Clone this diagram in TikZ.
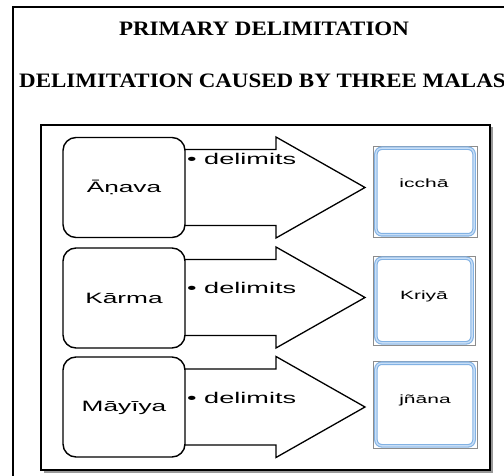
\documentclass[tikz,border=0pt]{standalone}
\usepackage{fontspec}
\setmainfont{Liberation Serif}
\newfontfamily\widesans[FakeStretch=1.75]{Liberation Sans}
\newfontfamily\widetitle[FakeStretch=1.12]{Liberation Serif}
\usetikzlibrary{calc}
\definecolor{boxblue}{RGB}{130,178,228}
\definecolor{boxblueinner}{RGB}{200,222,246}
\tikzset{
  frameline/.style={line width=1.7pt},
  titletext/.style={font=\widetitle\bfseries\fontsize{20.5}{24}\selectfont, inner sep=0pt, anchor=base},
  malabox/.style={draw, line width=1.4pt, rounded corners=13pt, fill=white,
    minimum width=122pt, minimum height=100pt, inner sep=0pt},
  malatext/.style={font=\widesans\fontsize{15}{18}\selectfont, inner sep=0pt, anchor=base},
  blockarrow/.style={draw, line width=1.3pt, fill=white, line join=miter},
  delimtext/.style={font=\widesans\fontsize{15.5}{18}\selectfont, inner sep=0pt, anchor=base west},
  powerbox/.style={draw=black!45, line width=0.6pt, minimum width=104pt, inner sep=0pt},
  powerinner/.style={draw=boxblue, line width=1.1pt, double=boxblueinner, double distance=1.4pt, rounded corners=6pt},
  powertext/.style={font=\widesans\fontsize{12}{14}\selectfont, inner sep=0pt, anchor=base},
}
\begin{document}
\begin{tikzpicture}[x=1pt,y=-1pt]
\useasboundingbox (0,0) rectangle (504,476);
\fill[white] (0,0) rectangle (504,476);
% outer frame (cut at right and bottom)
\draw[frameline] (13,480) -- (13,7) -- (510,7);
% titles
\node[titletext] (t1) at (264,36) {PRIMARY DELIMITATION};
\node[titletext, anchor=base west] (t2) at (19,88) {DELIMITATION CAUSED BY THREE MALAS};
% inner frame with shadow
\fill[black!40] (43.5,127.5) rectangle (492.5,472.5);
\draw[frameline, fill=white] (41,125) rectangle (490,470);

% block arrows
\foreach \c in {187.5,297.5,407}{
  \draw[blockarrow] (150,\c-38) -- (276,\c-38) -- (276,\c-50.5) -- (365,\c)
     -- (276,\c+50.5) -- (276,\c+38) -- (150,\c+38);
}

% mala boxes
\node[malabox] (m1) at (124,187.5) {};
\node[malabox] (m2) at (124,298) {};
\node[malabox] (m3) at (124,407) {};
\node[malatext] (l1) at (124,193) {Āṇava};
\node[malatext] (l2) at (124,304) {Kārma};
\node[malatext] (l3) at (124,411) {Māyīya};

% delimits labels
\node[delimtext] (d1) at (187,165) {• delimits};
\node[delimtext] (d2) at (187,294) {• delimits};
\node[delimtext] (d3) at (187,403) {• delimits};

% power boxes
\node[powerbox, minimum height=91pt] (p1) at (425,191.5) {};
\node[powerbox, minimum height=89pt, minimum width=102pt] (p2) at (424,300.5) {};
\node[powerbox, minimum height=87pt] (p3) at (425,404.5) {};
\foreach \p in {p1,p2,p3}{
  \draw[powerinner] ($(\p.south west)+(3.2,-2.5)$) rectangle ($(\p.north east)+(-3.2,2.5)$);
}
\node[powertext] (q1) at (424,188) {icchā};
\node[powertext] (q2) at (424,299) {Kriyā};
\node[powertext] (q3) at (425,403) {jñāna};
\end{tikzpicture}
\end{document}
